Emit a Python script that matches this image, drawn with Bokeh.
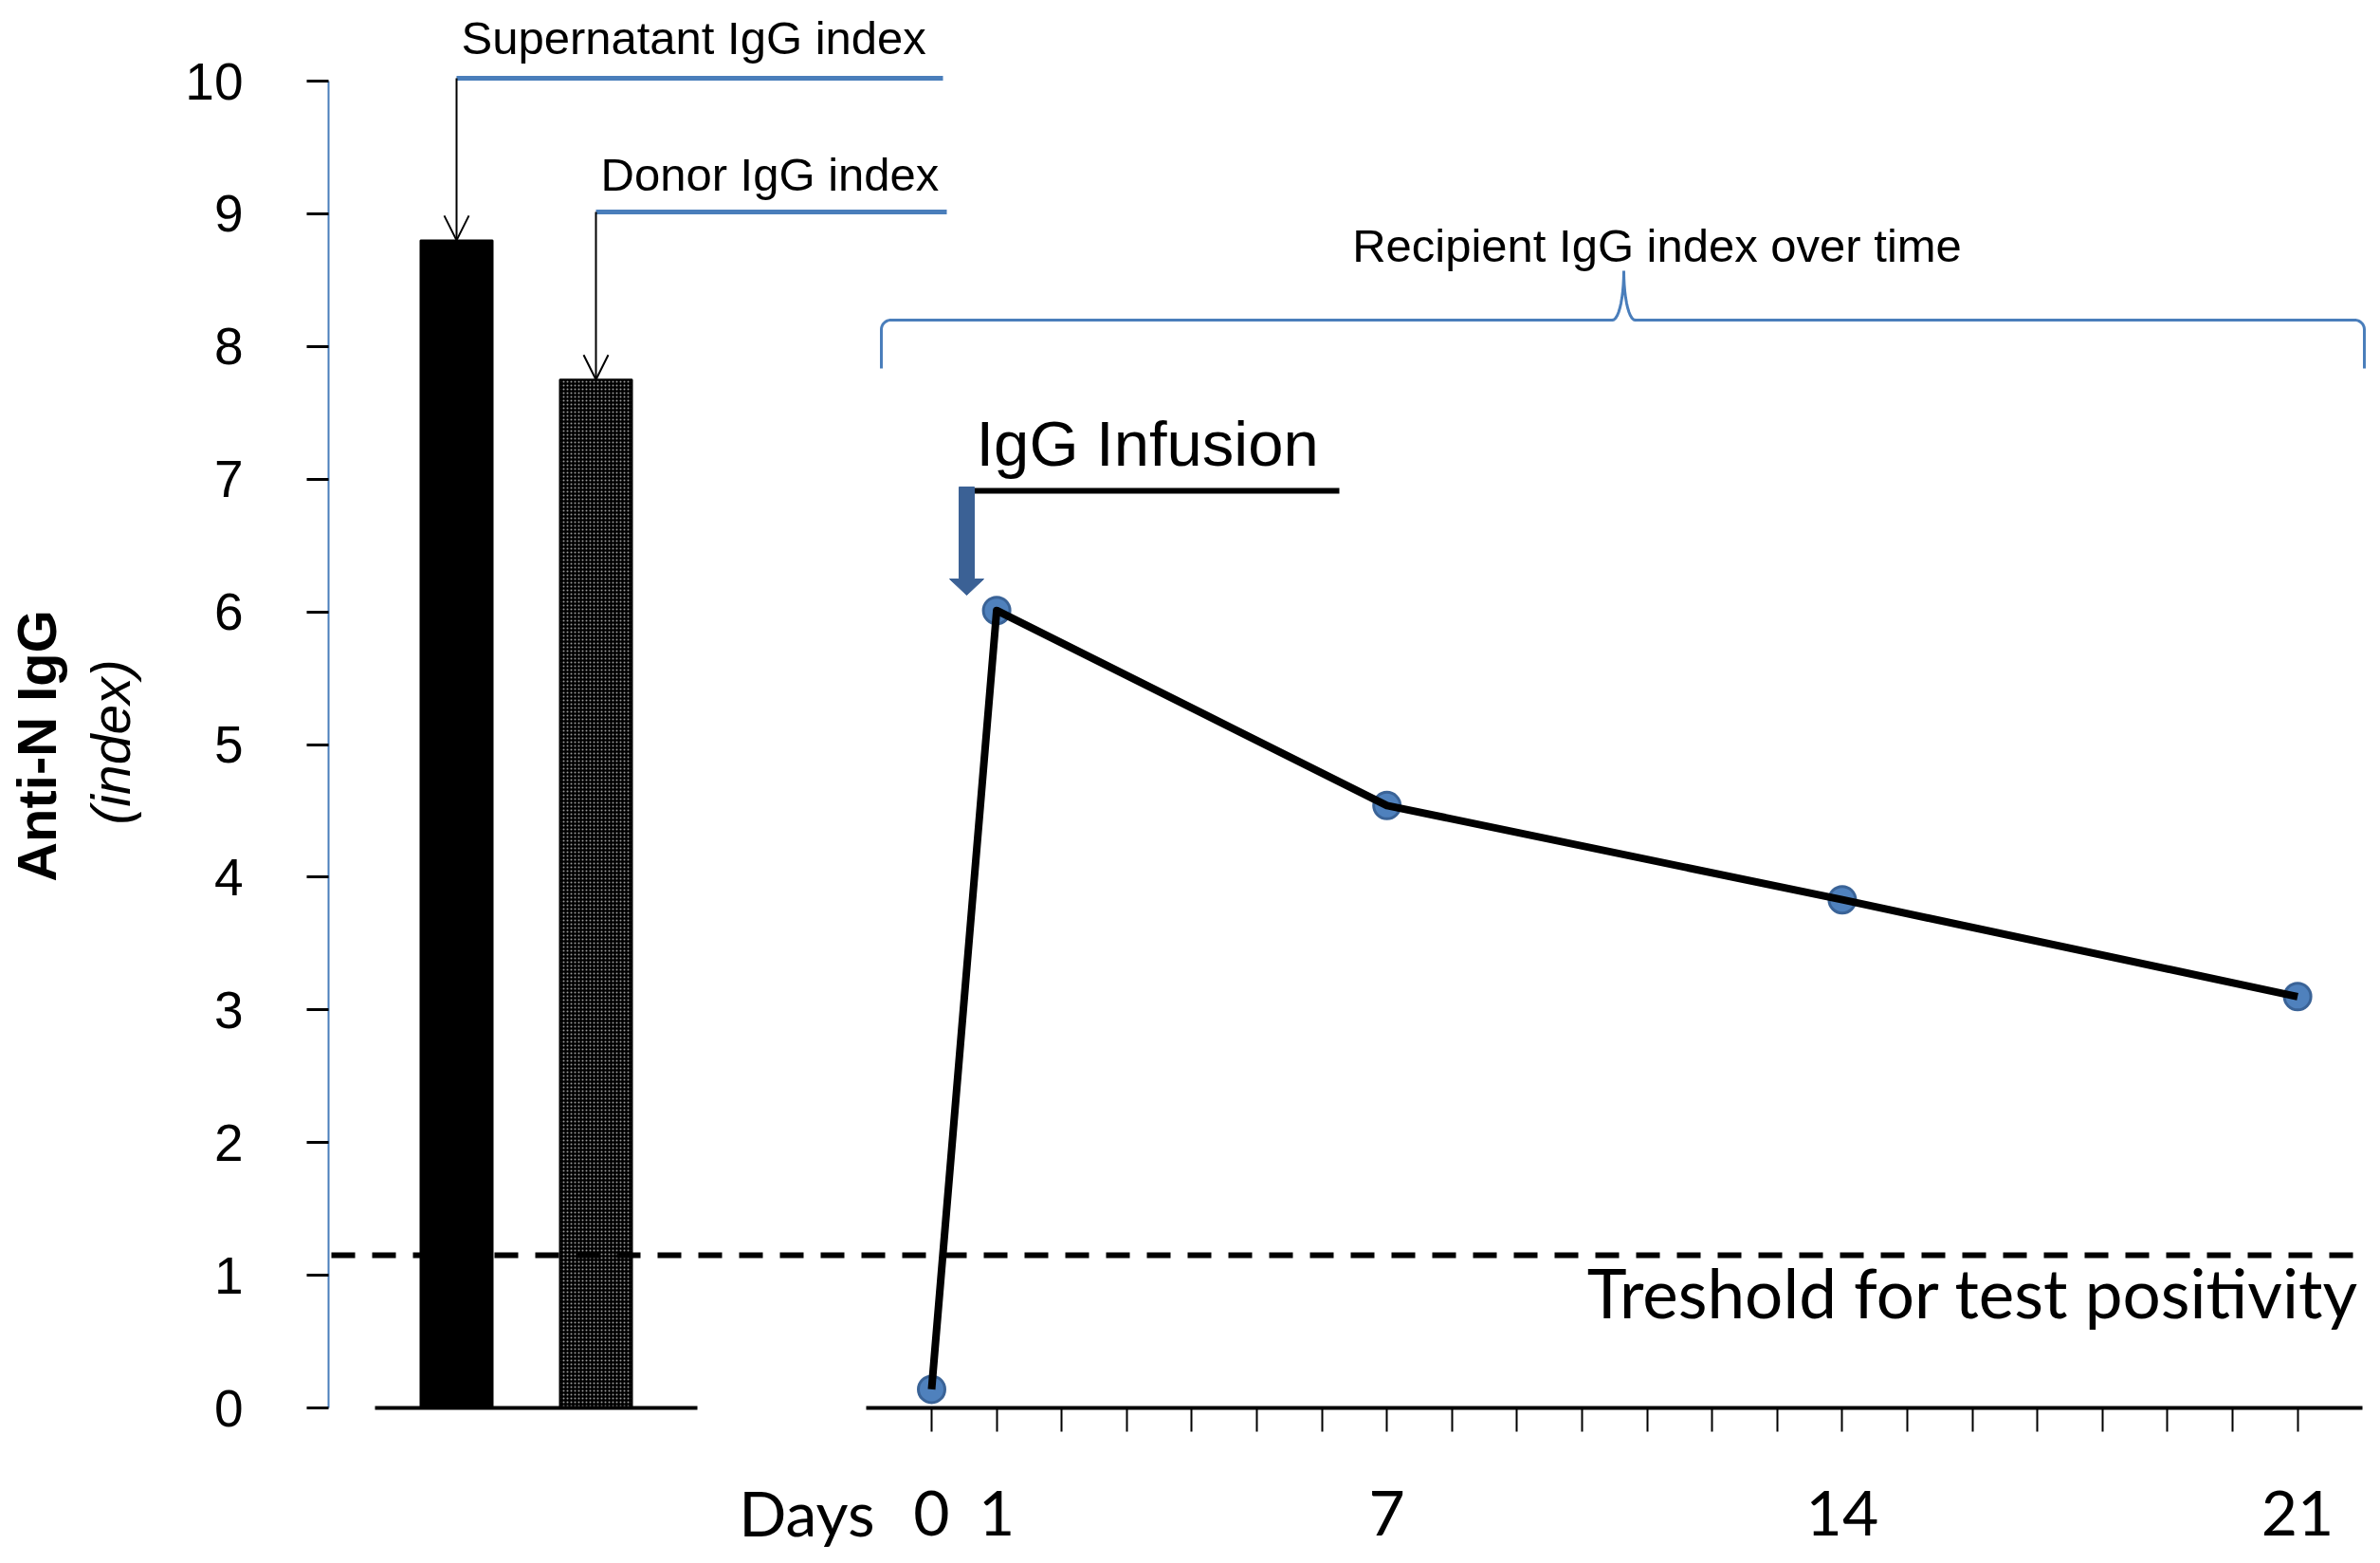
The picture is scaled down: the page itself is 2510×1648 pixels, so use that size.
import numpy as np
from bokeh.plotting import figure
from bokeh.models import Range1d, FixedTicker, Label, Arrow, OpenHead
from bokeh.embed import file_html
from bokeh.resources import INLINE

# ---------------- data ----------------
bar_labels = ["Supernatant IgG index", "Donor IgG index"]
bar_values = [8.8, 7.75]
days = [0, 1, 7, 14, 21]
recipient_index = [0.14, 6.01, 4.54, 3.83, 3.10]
threshold = 1.15
y_ticks = list(range(0, 11))
day_ticks = list(range(0, 22))
day_labels = [0, 1, 7, 14, 21]
y_title = "Anti-N IgG"
y_subtitle = "(index)"
x_title = "Days"
recipient_label = "Recipient IgG index over time"
infusion_label = "IgG Infusion"
threshold_label = "Treshold for test positivity"

# ---------------- layout (pixel geometry of the picture) ----------------
W, H = 2502, 1648
AXIS_X_PX, AXIS_Y_PX = 346, 1484          # where the value axis / day axis sit
DAY0_PX, PX_PER_DAY = 982, 68.6
PX_PER_UNIT = 139.9
BAR0_PX, BAR_STEP_PX, BAR_W_PX = 481, 147, 76

def dx(px):
    return (px - DAY0_PX) / PX_PER_DAY

def dy(py):
    return (AXIS_Y_PX - py) / PX_PER_UNIT

def cx(px):
    return (px - BAR0_PX) / BAR_STEP_PX

BLUE = "#4a7ebb"
ARIAL = "Liberation Sans"
CAL = "Lato"

p = figure(width=W, height=H, output_backend="svg", toolbar_location=None,
           x_range=Range1d(dx(0), dx(W)), y_range=Range1d(dy(H), dy(0)),
           min_border_left=0, min_border_right=0, min_border_top=0, min_border_bottom=0,
           background_fill_color="white", border_fill_color="white",
           outline_line_color=None)
p.extra_x_ranges = {"cat": Range1d(cx(0), cx(W))}
p.grid.visible = False

# x axis (days)
xa = p.xaxis[0]
xa.fixed_location = 0
xa.ticker = FixedTicker(ticks=day_ticks)
xa.bounds = (-1, 22)
xa.axis_line_color = "black"
xa.axis_line_width = 4
xa.major_tick_line_color = "black"
xa.major_tick_line_width = 2
xa.major_tick_out = 25
xa.major_tick_in = 0
xa.minor_tick_line_color = None
xa.major_label_overrides = {d: (str(d) if d in day_labels else "") for d in day_ticks}
xa.major_label_text_font = CAL
xa.major_label_text_font_size = "66px"
xa.major_label_text_color = "black"
xa.major_label_standoff = 62

# y axis
ya = p.yaxis[0]
ya.fixed_location = dx(AXIS_X_PX)
ya.ticker = FixedTicker(ticks=y_ticks)
ya.bounds = (0, 10)
ya.axis_line_color = BLUE
ya.axis_line_width = 2
ya.major_tick_line_color = "black"
ya.major_tick_line_width = 3
ya.major_tick_out = 23
ya.major_tick_in = 0
ya.minor_tick_line_color = None
ya.major_label_text_font = ARIAL
ya.major_label_text_font_size = "55px"
ya.major_label_text_color = "black"
ya.major_label_standoff = 67

# bars
bar_x = list(range(len(bar_values)))
bw = BAR_W_PX / BAR_STEP_PX
p.vbar(x=[bar_x[0]], top=[bar_values[0]], width=bw, x_range_name="cat",
       fill_color="black", line_color="black", line_width=2)
p.vbar(x=[bar_x[1]], top=[bar_values[1]], width=bw, x_range_name="cat",
       fill_color="black", line_color="black", line_width=2,
       hatch_pattern="dot", hatch_color="#9a9a9a", hatch_scale=4, hatch_weight=1.5)
# left baseline
p.segment(x0=[cx(395)], x1=[cx(735)], y0=[0], y1=[0], x_range_name="cat",
          line_color="black", line_width=4)

# bar callouts
line_y_px = [82, 223]
line_right_px = [994, 998]
text_base_px = [39, 183]
for i, (lab, val) in enumerate(zip(bar_labels, bar_values)):
    p.segment(x0=[bar_x[i]], x1=[cx(line_right_px[i])], y0=[dy(line_y_px[i])],
              y1=[dy(line_y_px[i])], x_range_name="cat", line_color=BLUE, line_width=5)
    p.add_layout(Arrow(x_start=bar_x[i], y_start=dy(line_y_px[i]), x_end=bar_x[i], y_end=val,
                       x_range_name="cat", line_color="black", line_width=2,
                       end=OpenHead(size=26, line_width=2, line_color="black")))
    p.add_layout(Label(x=bar_x[i] + 5 / BAR_STEP_PX, y=dy(text_base_px[i]), text=lab,
                       x_range_name="cat", text_font=ARIAL, text_font_size="49px",
                       text_color="black", text_baseline="alphabetic", text_align="left"))

# threshold
p.segment(x0=[dx(AXIS_X_PX + 3)], x1=[22], y0=[threshold], y1=[threshold],
          line_color="black", line_width=6, line_dash="25 18")
p.add_layout(Label(x=dx(2487), y=dy(1362), text=threshold_label, text_font=CAL,
                   text_font_size="71px", text_color="black", text_align="right",
                   text_baseline="alphabetic"))

# recipient series
p.scatter(days, recipient_index, size=28, fill_color="#4f81bd", line_color="#3a6397",
          line_width=3)
p.line(days, recipient_index, line_color="black", line_width=8, line_join="round")

# brace
t = np.linspace(0, np.pi / 2, 12)
bx = [929] + list(939 - 10 * np.sin(t[::-1])) + list(1700 + 12 * np.sin(t)) \
     + list(1724 - 12 * np.sin(t[::-1])) + list(2483 + 10 * np.sin(t)) + [2493]
by = [388] + list(347 - 10 * np.cos(t[::-1])) + list(285 + 52 * np.cos(t)) \
     + list(285 + 52 * np.cos(t[::-1])) + list(347 - 10 * np.cos(t)) + [388]
p.line([dx(v) for v in bx], [dy(v) for v in by], line_color=BLUE, line_width=3)
p.add_layout(Label(x=dx(1747), y=dy(258), text=recipient_label, text_font=ARIAL,
                   text_font_size="49px", text_color="black", text_align="center",
                   text_baseline="alphabetic"))

# infusion marker
p.add_layout(Label(x=dx(1029), y=dy(467), text=infusion_label, text_font=ARIAL,
                   text_font_size="67px", text_color="black", text_align="left",
                   text_baseline="alphabetic"))
p.segment(x0=[dx(1020)], x1=[dx(1412)], y0=[dy(517)], y1=[dy(517)],
          line_color="black", line_width=6)
ax_px = [1011, 1027, 1027, 1037, 1019, 1001, 1011]
ay_px = [513, 513, 610, 610, 627, 610, 610]
p.patch([dx(v) for v in ax_px], [dy(v) for v in ay_px], fill_color="#3b6195",
        line_color="#3b6195", line_width=1)

# axis titles
p.add_layout(Label(x=dx(922), y=dy(1594), text=x_title, text_font=CAL,
                   text_font_size="66px", text_color="black", text_align="right",
                   text_baseline="alphabetic"))
p.add_layout(Label(x=dx(38), y=dy(786), text=y_title, angle=np.pi / 2, text_font=ARIAL,
                   text_font_style="bold", text_font_size="58px", text_color="black",
                   text_align="center", text_baseline="middle"))
p.add_layout(Label(x=dx(116), y=dy(782), text=y_subtitle, angle=np.pi / 2, text_font=ARIAL,
                   text_font_style="italic", text_font_size="57px", text_color="black",
                   text_align="center", text_baseline="middle"))

open("out.html", "w").write(file_html(p, INLINE))
